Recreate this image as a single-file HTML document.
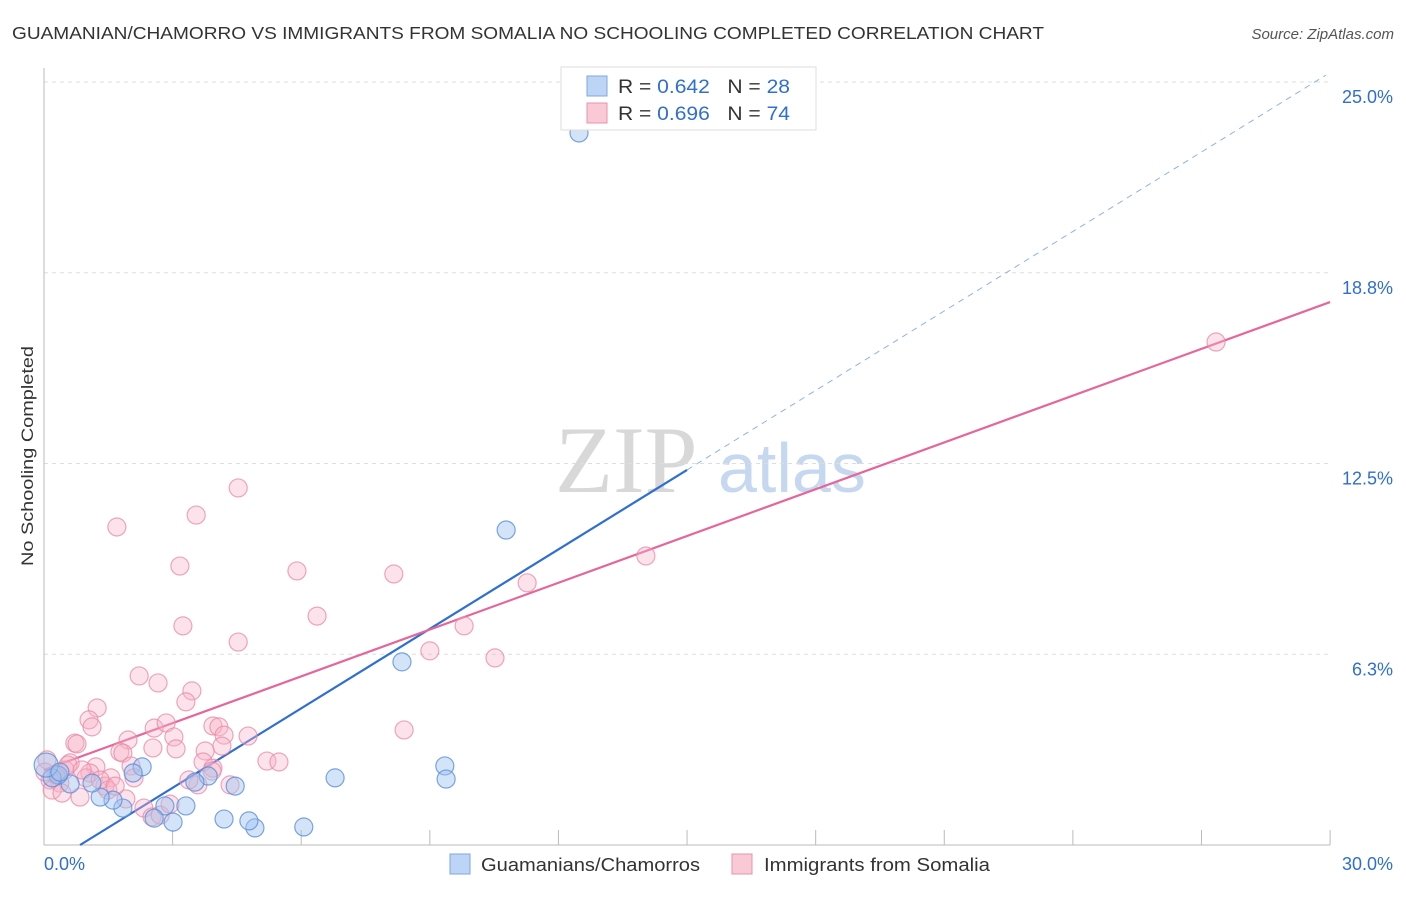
<!DOCTYPE html>
<html><head><meta charset="utf-8"><style>
body{margin:0;background:#fff;font-family:"Liberation Sans",sans-serif}
svg text{font-family:"Liberation Sans",sans-serif}
</style></head><body>
<svg id="c" width="1406" height="892">
<text x="12" y="39" font-size="17.5" fill="#333" textLength="1032" lengthAdjust="spacingAndGlyphs">GUAMANIAN/CHAMORRO VS IMMIGRANTS FROM SOMALIA NO SCHOOLING COMPLETED CORRELATION CHART</text>
<text x="1394" y="39" font-size="15" fill="#555" text-anchor="end" font-style="italic">Source: ZipAtlas.com</text>
<text x="0" y="0" transform="translate(33,456) rotate(-90)" font-size="17" fill="#333" text-anchor="middle" textLength="220" lengthAdjust="spacingAndGlyphs">No Schooling Completed</text>
<g>
<text x="555" y="492" font-size="95" fill="#d8d8d8" font-family="Liberation Serif" style="font-family:'Liberation Serif',serif">ZIP</text>
<text x="718" y="492" font-size="70" fill="#c5d8f0">atlas</text>
</g>
<g id="grid"></g><g id="axes"></g><g id="lines"></g><g id="pts"></g>
<g>
<rect x="561" y="67" width="255" height="63" fill="#fff" stroke="#ddd"/>
<rect x="587" y="76" width="20" height="20" fill="#bcd4f6" stroke="#7ea7e0"/>
<text x="618" y="93" font-size="19" fill="#333" textLength="172" lengthAdjust="spacingAndGlyphs">R = <tspan fill="#2f6fd1">0.642</tspan>&#160;&#160;&#160;N = <tspan fill="#2f6fd1">28</tspan></text>
<rect x="587" y="103" width="20" height="20" fill="#f9c9d6" stroke="#e993ab"/>
<text x="618" y="120" font-size="19" fill="#333" textLength="172" lengthAdjust="spacingAndGlyphs">R = <tspan fill="#2f6fd1">0.696</tspan>&#160;&#160;&#160;N = <tspan fill="#2f6fd1">74</tspan></text>
</g>
<g>
<rect x="450" y="854" width="20" height="20" fill="#bcd4f6" stroke="#7ea7e0"/>
<text x="481" y="871" font-size="18" fill="#333" textLength="219" lengthAdjust="spacingAndGlyphs">Guamanians/Chamorros</text>
<rect x="732" y="854" width="20" height="20" fill="#f9c9d6" stroke="#e993ab"/>
<text x="764" y="871" font-size="18" fill="#333" textLength="226" lengthAdjust="spacingAndGlyphs">Immigrants from Somalia</text>
</g>
</svg>
<script>
const yTicks=[25,18.75,12.5,6.25];
const yTickLabels=["25.0%","18.8%","12.5%","6.3%"];
const xTickLabels=["0.0%","30.0%"];
const blueX=[12.48,10.78,8.35,9.35,9.38,6.79,6.06,4.92,4.78,4.20,4.46,3.83,3.31,3.01,2.82,2.57,2.29,2.08,1.84,1.61,1.31,1.12,0.61,0.33,0.19,0.05,0.37,3.52];
const blueY=[23.33,10.32,6.00,2.59,2.16,2.20,0.59,0.56,0.79,0.85,1.93,2.26,1.28,0.75,1.28,0.88,2.56,2.36,1.21,1.47,1.57,2.03,2.00,2.29,2.20,2.62,2.39,2.06];
const pinkX=[27.34,14.04,11.27,9.80,10.52,9.00,8.40,8.16,5.90,6.37,4.53,4.53,3.55,3.17,3.24,1.70,2.22,2.66,3.45,3.31,1.24,1.05,1.12,0.72,0.77,1.96,1.77,1.84,2.57,2.85,3.03,2.54,3.08,3.94,4.08,4.20,4.15,4.76,3.76,3.71,3.94,5.20,5.48,2.03,2.10,1.56,1.42,1.21,1.07,0.98,0.61,0.49,0.37,0.28,0.14,0.07,0.19,0.42,0.84,1.49,1.91,2.33,2.52,2.71,2.94,3.59,3.38,4.34,3.92,0.56,0.89,1.31,1.66,0.02];
const pinkY=[16.48,9.47,8.59,7.18,6.13,6.36,3.77,8.88,8.98,7.50,6.65,11.70,10.81,9.14,7.18,10.42,5.54,5.31,5.05,4.69,4.49,4.10,3.87,3.34,3.31,3.44,3.05,3.01,3.83,4.00,3.54,3.18,3.15,3.90,3.87,3.60,3.24,3.57,3.08,2.72,2.52,2.75,2.72,2.59,2.20,2.20,1.93,2.56,2.36,2.20,2.69,2.46,2.03,2.29,2.13,2.79,1.80,1.70,1.57,1.80,1.51,1.21,0.92,0.98,1.34,1.97,2.13,1.97,2.42,2.62,2.46,2.13,1.93,2.39];
const blueLine=[-0.73,0.868]; // intercept, slope
const pinkLine=[2.46,0.511];
const NS="http://www.w3.org/2000/svg";
const X=v=>44+v*42.87, Y=v=>845-v*30.52;
function mk(p,t,a){const e=document.createElementNS(NS,t);for(const k in a)e.setAttribute(k,a[k]);document.getElementById(p).appendChild(e);return e;}
yTicks.forEach((t,i)=>{
 let g=mk('grid','line',{x1:44,x2:1330,y1:Y(t),y2:Y(t),stroke:'#ddd','stroke-dasharray':'4,4'});
 
 
 let l=mk('axes','text',{x:1393,y:Y(t)+21,'font-size':18,fill:'#2f6fd1','text-anchor':'end'});l.textContent=yTickLabels[i];
 
 
});
let ax=mk('axes','line',{x1:44,x2:44,y1:68,y2:845,stroke:'#bbb'});


let bx=mk('axes','line',{x1:44,x2:1330,y1:845,y2:845,stroke:'#bbb'});


for(let i=1;i<=10;i++){let t=mk('axes','line',{x1:X(i*3),x2:X(i*3),y1:830,y2:845,stroke:'#bbb'});
 
 }
let x0=mk('axes','text',{x:44,y:870,'font-size':18,fill:'#2f6fd1'});x0.textContent=xTickLabels[0];


let x1=mk('axes','text',{x:1393,y:870,'font-size':18,fill:'#2f6fd1','text-anchor':'end'});x1.textContent=xTickLabels[1];


pinkX.forEach((v,i)=>{let c=mk('pts','circle',{cx:X(v),cy:Y(pinkY[i]),r:9,fill:'rgba(248,180,200,0.38)',stroke:'rgba(232,138,165,0.75)','stroke-width':1.2});
 
 });
blueX.forEach((v,i)=>{let c=mk('pts','circle',{cx:X(v),cy:Y(blueY[i]),r:i==25?12:9,fill:'rgba(160,195,240,0.45)',stroke:'rgba(91,143,217,0.8)','stroke-width':1.2});
 
 });
const bx0=-blueLine[0]/blueLine[1];
let b1=mk('lines','line',{x1:X(bx0),y1:Y(0),x2:X(15),y2:Y(blueLine[0]+blueLine[1]*15),stroke:'#2f6fd1','stroke-width':2.2});


let b2=mk('lines','line',{x1:X(15),y1:Y(blueLine[0]+blueLine[1]*15),x2:X(29.9),y2:Y(blueLine[0]+blueLine[1]*29.9),stroke:'#8fb2e6','stroke-width':1,'stroke-dasharray':'6,5'});


let p1=mk('lines','line',{x1:X(0),y1:Y(pinkLine[0]),x2:X(30),y2:Y(pinkLine[0]+pinkLine[1]*30),stroke:'#e5679a','stroke-width':2.2});


</script>
</body></html>
